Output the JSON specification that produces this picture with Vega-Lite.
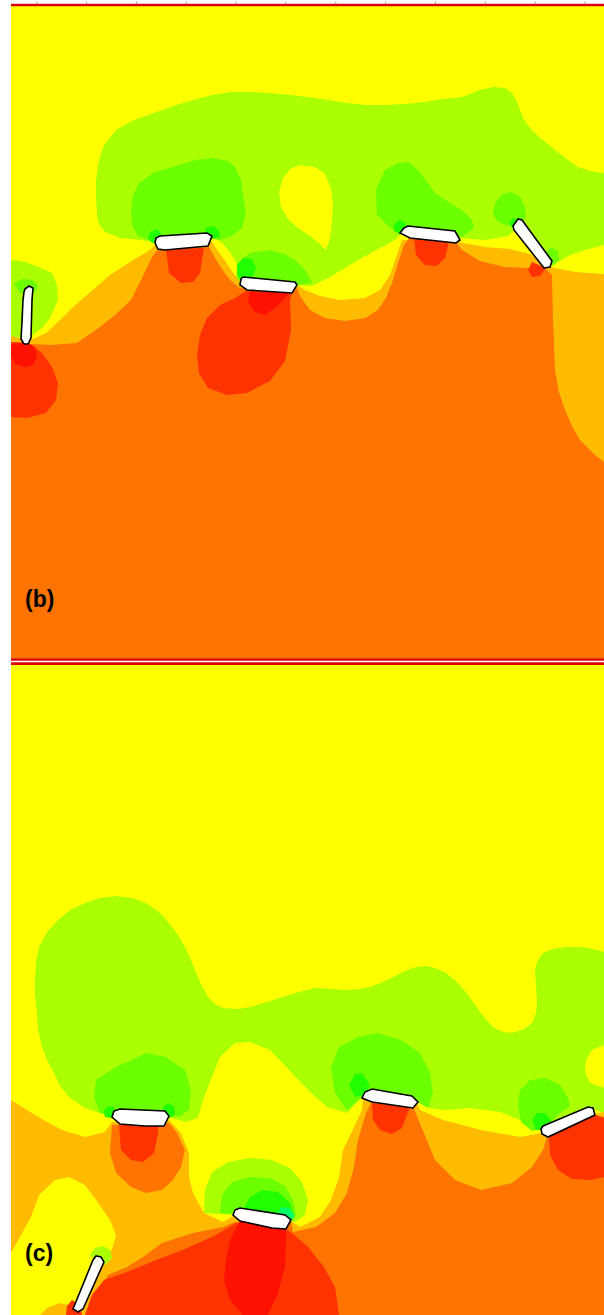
{
"$schema": "https://vega.github.io/schema/vega-lite/v6.json",
"width": 604, "height": 1315, "padding": 0, "autosize": {"type": "none"},
"background": "#ffffff",
"config": {"view": {"stroke": null}},
"projection": {"type": "identity", "scale": 1, "translate": [0, 0]},
"datasets": {
"regions": [
{"k":"bg","geo":{"type":"Polygon","coordinates":[[[0,0],[604,0],[604,1315],[0,1315],[0,0]]]}},
{"k":"Y","geo":{"type":"Polygon","coordinates":[[[11,6],[604,6],[604,658.3],[11,658.3],[11,6]]]}},
{"k":"YG","geo":{"type":"Polygon","coordinates":[[[96,180],[99,160],[104,145],[116,130],[134,120],[154,113],[173,106],[193,100],[212,95],[231,92],[250,92],[270,93],[290,95],[308,97],[328,100],[347,103],[366,105],[385,105],[405,104],[424,102],[444,99],[462,97],[480,90],[493,87],[505,88],[512,93],[517,102],[520,110],[524,120],[531,129],[539,137],[549,145],[559,153],[568,160],[578,167],[590,171],[604,173],[604,245],[585,250],[570,255],[558,262],[552,263],[520,225],[508,236],[485,240],[460,238],[402,233],[395,240],[380,248],[362,258],[345,268],[328,278],[312,286],[298,285],[241,281],[239,272],[236,262],[230,252],[222,243],[212,236],[155,242],[140,240],[120,238],[105,232],[99,224],[97,215],[96,195],[96,180]]]}},
{"k":"Y","geo":{"type":"Polygon","coordinates":[[[300,165],[315,167],[325,174],[331,188],[333,205],[332,222],[330,238],[326,250],[320,244],[310,236],[298,228],[288,219],[281,207],[279,192],[283,178],[290,169],[300,165]]]}},
{"k":"YG","geo":{"type":"Polygon","coordinates":[[[11,260],[25,262],[39,267],[52,273],[57,285],[58,300],[50,318],[42,328],[35,333],[32,336],[11,338],[11,260]]]}},
{"k":"G","geo":{"type":"Polygon","coordinates":[[[133,195],[139,183],[155,172],[173,167],[195,160],[212,158],[228,161],[235,167],[241,180],[243,195],[246,213],[242,228],[232,236],[220,240],[210,238],[155,242],[138,236],[132,225],[131,210],[133,195]]]}},
{"k":"G","geo":{"type":"Polygon","coordinates":[[[236,277],[239,267],[244,257],[250,253],[270,250],[285,254],[296,261],[306,271],[312,283],[298,285],[241,283],[236,277]]]}},
{"k":"G","geo":{"type":"Polygon","coordinates":[[[376,190],[385,170],[398,163],[408,162],[418,170],[426,180],[435,193],[450,203],[463,211],[472,220],[474,228],[462,237],[402,234],[390,228],[377,215],[376,190]]]}},
{"k":"G","geo":{"type":"Polygon","coordinates":[[[493,213],[495,203],[503,194],[512,192],[520,197],[525,207],[526,215],[522,225],[516,226],[505,225],[497,221],[493,213]]]}},
{"k":"G","geo":{"type":"Polygon","coordinates":[[[546,252],[552,247],[558,252],[559,260],[553,266],[546,252]]]}},
{"k":"G","geo":{"type":"Polygon","coordinates":[[[14,284],[22,279],[32,280],[38,285],[35,292],[20,293],[14,284]]]}},
{"k":"BG","geo":{"type":"Polygon","coordinates":[[[148,238],[150,232],[157,229],[162,235],[160,242],[152,243],[148,238]]]}},
{"k":"BG","geo":{"type":"Polygon","coordinates":[[[205,228],[213,226],[219,230],[220,237],[212,239],[206,235],[205,228]]]}},
{"k":"BG","geo":{"type":"Polygon","coordinates":[[[237,274],[237,265],[243,258],[252,259],[256,268],[252,279],[242,281],[237,274]]]}},
{"k":"BG","geo":{"type":"Polygon","coordinates":[[[394,225],[399,220],[405,222],[406,231],[400,234],[394,231],[394,225]]]}},
{"k":"BG","geo":{"type":"Polygon","coordinates":[[[509,222],[514,218],[520,221],[518,227],[511,227],[509,222]]]}},
{"k":"LO","geo":{"type":"Polygon","coordinates":[[[11,336],[20,338],[31,340],[46,333],[60,320],[70,310],[81,300],[95,288],[110,275],[130,262],[150,250],[156,244],[211,241],[218,251],[226,262],[233,273],[240,282],[296,285],[305,290],[320,296],[340,300],[365,298],[380,290],[390,275],[396,258],[402,240],[458,242],[485,247],[510,249],[530,254],[542,262],[548,266],[555,268],[575,272],[604,274],[604,658.3],[11,658.3],[11,336]]]}},
{"k":"O","geo":{"type":"Polygon","coordinates":[[[11,342],[31,344],[50,345],[77,343],[100,327],[115,315],[131,300],[142,278],[152,257],[158,249],[209,247],[215,258],[222,269],[230,280],[240,288],[292,292],[297,288],[300,296],[310,310],[325,318],[345,321],[365,318],[378,310],[386,298],[392,283],[398,263],[404,245],[409,238],[456,242],[462,250],[480,261],[505,267],[530,268],[545,268],[552,275],[553,320],[555,370],[559,392],[565,410],[572,426],[580,440],[595,455],[604,462],[604,658.3],[11,658.3],[11,342]]]}},
{"k":"R","geo":{"type":"Polygon","coordinates":[[[11,342],[29,343],[42,353],[52,367],[58,383],[56,400],[46,413],[27,418],[11,417],[11,342]]]}},
{"k":"RR","geo":{"type":"Polygon","coordinates":[[[11,345],[25,342],[35,347],[37,357],[33,365],[25,367],[15,364],[11,355],[11,345]]]}},
{"k":"R","geo":{"type":"Polygon","coordinates":[[[166,249],[169,273],[181,283],[193,282],[200,273],[204,248],[166,249]]]}},
{"k":"R","geo":{"type":"Polygon","coordinates":[[[246,291],[235,298],[220,305],[207,318],[200,335],[197,355],[199,373],[208,388],[227,395],[247,393],[270,381],[285,361],[291,330],[290,300],[292,293],[246,291]]]}},
{"k":"RR","geo":{"type":"Polygon","coordinates":[[[250,292],[248,302],[255,312],[265,315],[275,308],[285,298],[290,293],[250,292]]]}},
{"k":"R","geo":{"type":"Polygon","coordinates":[[[414,238],[416,255],[425,265],[437,266],[445,258],[449,242],[414,238]]]}},
{"k":"R","geo":{"type":"Polygon","coordinates":[[[532,262],[528,270],[532,277],[540,276],[546,268],[532,262]]]}},
{"k":"Y","geo":{"type":"Polygon","coordinates":[[[11,665],[604,665],[604,1315],[11,1315],[11,665]]]}},
{"k":"YG","geo":{"type":"Polygon","coordinates":[[[35,980],[36,962],[39,947],[47,932],[58,920],[70,910],[85,903],[100,898],[116,896],[132,898],[146,903],[159,912],[169,923],[178,935],[185,947],[191,960],[196,973],[202,986],[208,997],[215,1004],[223,1008],[237,1009],[250,1007],[270,1001],[289,995],[302,991],[316,988],[332,989],[347,990],[360,989],[370,987],[383,982],[393,977],[405,971],[416,967],[426,966],[435,968],[446,973],[455,980],[465,991],[474,1003],[483,1016],[493,1027],[503,1032],[512,1033],[524,1029],[532,1023],[536,1013],[537,1003],[536,985],[535,970],[538,960],[543,953],[553,949],[566,947],[578,947],[589,948],[604,952],[604,1113],[593,1109],[543,1130],[535,1128],[520,1120],[500,1112],[470,1108],[445,1110],[430,1108],[418,1102],[362,1097],[347,1113],[327,1107],[308,1090],[289,1070],[270,1050],[250,1042],[235,1043],[220,1057],[208,1087],[203,1100],[198,1118],[185,1122],[169,1117],[112,1117],[100,1113],[85,1108],[69,1097],[60,1086],[54,1073],[47,1060],[42,1047],[38,1030],[37,1013],[35,995],[35,980]]]}},
{"k":"Y","geo":{"type":"Polygon","coordinates":[[[604,1045],[592,1050],[586,1060],[585,1072],[590,1083],[604,1088],[604,1045]]]}},
{"k":"G","geo":{"type":"Polygon","coordinates":[[[94,1097],[96,1080],[116,1067],[146,1053],[166,1057],[185,1070],[191,1090],[189,1110],[181,1116],[169,1117],[112,1117],[100,1113],[94,1097]]]}},
{"k":"G","geo":{"type":"Polygon","coordinates":[[[331,1067],[339,1047],[358,1037],[377,1033],[401,1040],[420,1053],[430,1073],[433,1093],[428,1108],[418,1102],[362,1097],[347,1110],[335,1093],[331,1067]]]}},
{"k":"G","geo":{"type":"Polygon","coordinates":[[[518,1105],[520,1090],[530,1080],[545,1078],[560,1085],[568,1098],[570,1106],[560,1113],[545,1128],[532,1131],[521,1122],[518,1105]]]}},
{"k":"BG","geo":{"type":"Polygon","coordinates":[[[104,1110],[108,1106],[114,1107],[116,1113],[112,1118],[105,1117],[104,1110]]]}},
{"k":"BG","geo":{"type":"Polygon","coordinates":[[[163,1107],[168,1103],[174,1106],[175,1114],[170,1118],[164,1114],[163,1107]]]}},
{"k":"BG","geo":{"type":"Polygon","coordinates":[[[349,1085],[355,1074],[362,1073],[370,1085],[365,1095],[355,1097],[349,1085]]]}},
{"k":"BG","geo":{"type":"Polygon","coordinates":[[[532,1120],[537,1113],[545,1113],[551,1120],[547,1130],[536,1130],[532,1120]]]}},
{"k":"LO","geo":{"type":"Polygon","coordinates":[[[11,1100],[40,1118],[62,1130],[85,1137],[105,1132],[112,1122],[169,1120],[181,1133],[189,1153],[189,1177],[193,1193],[204,1213],[223,1222],[233,1216],[291,1221],[300,1227],[320,1217],[331,1200],[339,1177],[343,1150],[354,1127],[362,1110],[363,1099],[417,1104],[420,1110],[443,1120],[481,1130],[520,1137],[542,1133],[595,1114],[604,1112],[604,1315],[11,1315],[11,1100]]]}},
{"k":"Y","geo":{"type":"Polygon","coordinates":[[[11,1253],[20,1237],[31,1217],[39,1195],[55,1180],[69,1177],[85,1185],[96,1200],[110,1220],[116,1235],[112,1250],[100,1258],[95,1262],[80,1300],[72,1306],[60,1303],[47,1308],[40,1315],[11,1315],[11,1253]]]}},
{"k":"YG","geo":{"type":"Polygon","coordinates":[[[204,1213],[205,1190],[212,1172],[228,1162],[250,1158],[272,1160],[290,1168],[302,1182],[308,1200],[305,1215],[295,1222],[235,1215],[204,1213]]]}},
{"k":"G","geo":{"type":"Polygon","coordinates":[[[220,1213],[222,1195],[232,1182],[250,1177],[270,1178],[285,1186],[293,1200],[296,1215],[288,1222],[235,1214],[220,1213]]]}},
{"k":"BG","geo":{"type":"Polygon","coordinates":[[[243,1210],[250,1197],[262,1190],[278,1192],[290,1203],[294,1215],[287,1222],[240,1211],[243,1210]]]}},
{"k":"C","geo":{"type":"Polygon","coordinates":[[[277,1215],[281,1207],[289,1208],[295,1216],[290,1222],[277,1215]]]}},
{"k":"YG","geo":{"type":"Polygon","coordinates":[[[90,1255],[95,1248],[103,1246],[110,1250],[112,1258],[105,1265],[97,1262],[90,1255]]]}},
{"k":"O","geo":{"type":"Polygon","coordinates":[[[112,1125],[110,1153],[116,1173],[131,1187],[146,1193],[162,1190],[173,1180],[181,1167],[185,1150],[177,1133],[169,1123],[112,1125]]]}},
{"k":"R","geo":{"type":"Polygon","coordinates":[[[119,1125],[121,1150],[131,1160],[143,1162],[154,1153],[158,1133],[158,1125],[119,1125]]]}},
{"k":"O","geo":{"type":"Polygon","coordinates":[[[291,1221],[293,1232],[316,1227],[335,1213],[347,1193],[354,1167],[358,1140],[366,1113],[371,1103],[413,1107],[424,1133],[435,1160],[455,1180],[481,1190],[512,1183],[532,1167],[543,1150],[547,1137],[595,1115],[604,1117],[604,1315],[92,1315],[100,1290],[108,1275],[127,1267],[143,1257],[162,1243],[193,1233],[223,1227],[235,1222],[291,1221]]]}},
{"k":"R","geo":{"type":"Polygon","coordinates":[[[104,1280],[127,1272],[154,1261],[185,1249],[216,1235],[236,1223],[286,1229],[293,1234],[308,1247],[324,1267],[335,1287],[339,1315],[85,1315],[92,1295],[104,1280]]]}},
{"k":"RR","geo":{"type":"Polygon","coordinates":[[[240,1221],[230,1240],[226,1260],[224,1280],[230,1300],[243,1315],[268,1315],[278,1293],[285,1267],[286,1240],[286,1229],[240,1221]]]}},
{"k":"R","geo":{"type":"Polygon","coordinates":[[[67,1306],[72,1300],[80,1305],[82,1315],[66,1315],[67,1306]]]}},
{"k":"R","geo":{"type":"Polygon","coordinates":[[[372,1103],[373,1120],[380,1130],[392,1134],[402,1128],[410,1107],[372,1103]]]}},
{"k":"R","geo":{"type":"Polygon","coordinates":[[[549,1135],[550,1155],[558,1170],[572,1179],[590,1180],[604,1177],[604,1118],[595,1115],[549,1135]]]}},
{"k":"line","geo":{"type":"Polygon","coordinates":[[[11,3.7],[604,3.7],[604,6.3],[11,6.3],[11,3.7]]]}},
{"k":"line","geo":{"type":"Polygon","coordinates":[[[11,658.3],[604,658.3],[604,660.7],[11,660.7],[11,658.3]]]}},
{"k":"line","geo":{"type":"Polygon","coordinates":[[[11,662.3],[604,662.3],[604,665],[11,665],[11,662.3]]]}},
{"k":"tick","geo":{"type":"Polygon","coordinates":[[[36.2,1.5],[37.2,1.5],[37.2,3.7],[36.2,3.7],[36.2,1.5]]]}},
{"k":"tick","geo":{"type":"Polygon","coordinates":[[[86,1.5],[87,1.5],[87,3.7],[86,3.7],[86,1.5]]]}},
{"k":"tick","geo":{"type":"Polygon","coordinates":[[[135.9,1.5],[136.9,1.5],[136.9,3.7],[135.9,3.7],[135.9,1.5]]]}},
{"k":"tick","geo":{"type":"Polygon","coordinates":[[[185.7,1.5],[186.7,1.5],[186.7,3.7],[185.7,3.7],[185.7,1.5]]]}},
{"k":"tick","geo":{"type":"Polygon","coordinates":[[[235.6,1.5],[236.6,1.5],[236.6,3.7],[235.6,3.7],[235.6,1.5]]]}},
{"k":"tick","geo":{"type":"Polygon","coordinates":[[[285.4,1.5],[286.4,1.5],[286.4,3.7],[285.4,3.7],[285.4,1.5]]]}},
{"k":"tick","geo":{"type":"Polygon","coordinates":[[[335.3,1.5],[336.3,1.5],[336.3,3.7],[335.3,3.7],[335.3,1.5]]]}},
{"k":"tick","geo":{"type":"Polygon","coordinates":[[[385.1,1.5],[386.1,1.5],[386.1,3.7],[385.1,3.7],[385.1,1.5]]]}},
{"k":"tick","geo":{"type":"Polygon","coordinates":[[[435,1.5],[436,1.5],[436,3.7],[435,3.7],[435,1.5]]]}},
{"k":"tick","geo":{"type":"Polygon","coordinates":[[[484.8,1.5],[485.8,1.5],[485.8,3.7],[484.8,3.7],[484.8,1.5]]]}},
{"k":"tick","geo":{"type":"Polygon","coordinates":[[[534.7,1.5],[535.7,1.5],[535.7,3.7],[534.7,3.7],[534.7,1.5]]]}},
{"k":"tick","geo":{"type":"Polygon","coordinates":[[[584.5,1.5],[585.5,1.5],[585.5,3.7],[584.5,3.7],[584.5,1.5]]]}}
],
"plates": [
{"name":"b1","geo":{"type":"Polygon","coordinates":[[[25,289],[29,286],[33,288],[32,300],[31,338],[28,344],[24,344],[21,339],[22,322],[23,300],[24,292],[25,289]]]}},
{"name":"b2","geo":{"type":"Polygon","coordinates":[[[156,238],[160,236],[207,233],[212,236],[208,246],[165,250],[158,249],[155,243],[156,238]]]}},
{"name":"b3","geo":{"type":"Polygon","coordinates":[[[241,279],[243,277],[295,282],[297,285],[292,293],[247,290],[240,285],[241,279]]]}},
{"name":"b4","geo":{"type":"Polygon","coordinates":[[[404,228],[408,226],[455,231],[460,240],[456,243],[410,238],[400,233],[404,228]]]}},
{"name":"b5","geo":{"type":"Polygon","coordinates":[[[513,226],[518,219],[522,220],[552,261],[550,267],[544,268],[514,230],[513,226]]]}},
{"name":"c1","geo":{"type":"Polygon","coordinates":[[[114,1111],[120,1109],[165,1111],[169,1116],[164,1126],[145,1126],[120,1124],[112,1117],[114,1111]]]}},
{"name":"c2","geo":{"type":"Polygon","coordinates":[[[365,1092],[372,1089],[412,1096],[418,1102],[413,1108],[372,1102],[362,1098],[365,1092]]]}},
{"name":"c3","geo":{"type":"Polygon","coordinates":[[[543,1126],[588,1107],[593,1108],[595,1115],[548,1137],[542,1134],[541,1129],[543,1126]]]}},
{"name":"c4","geo":{"type":"Polygon","coordinates":[[[235,1210],[240,1208],[285,1215],[291,1220],[286,1229],[272,1228],[240,1221],[233,1215],[235,1210]]]}},
{"name":"c5","geo":{"type":"Polygon","coordinates":[[[93,1260],[96,1256],[101,1257],[104,1262],[83,1309],[78,1312],[73,1309],[93,1260]]]}}
],
"labels": [
{"t":"(b)","x":25,"y":600},
{"t":"(c)","x":25,"y":1254}
]
},
"layer": [
{"data":{"name":"regions"},
 "mark":{"type":"geoshape","strokeWidth":0},
 "encoding":{
  "shape":{"field":"geo","type":"geojson"},
  "fill":{"field":"k","type":"nominal","legend":null,
   "scale":{"domain":["bg","Y","YG","G","BG","C","LO","O","R","RR","line","tick"],
            "range":["#ffffff","#ffff00","#aaff00","#6cff00","#22ff00","#00ff66","#ffbb00","#ff7300","#ff3300","#ff1100","#dd0000","#999999"]}}}},
{"data":{"name":"plates"},
 "mark":{"type":"geoshape","fill":"#ffffff","stroke":"#000000","strokeWidth":1.6},
 "encoding":{"shape":{"field":"geo","type":"geojson"}}},
{"data":{"name":"labels"},
 "mark":{"type":"text","font":"Liberation Sans","fontWeight":"bold","fontSize":23,"align":"left","baseline":"middle","color":"#000000"},
 "encoding":{"longitude":{"field":"x","type":"quantitative"},"latitude":{"field":"y","type":"quantitative"},"text":{"field":"t"}}}
]
}
